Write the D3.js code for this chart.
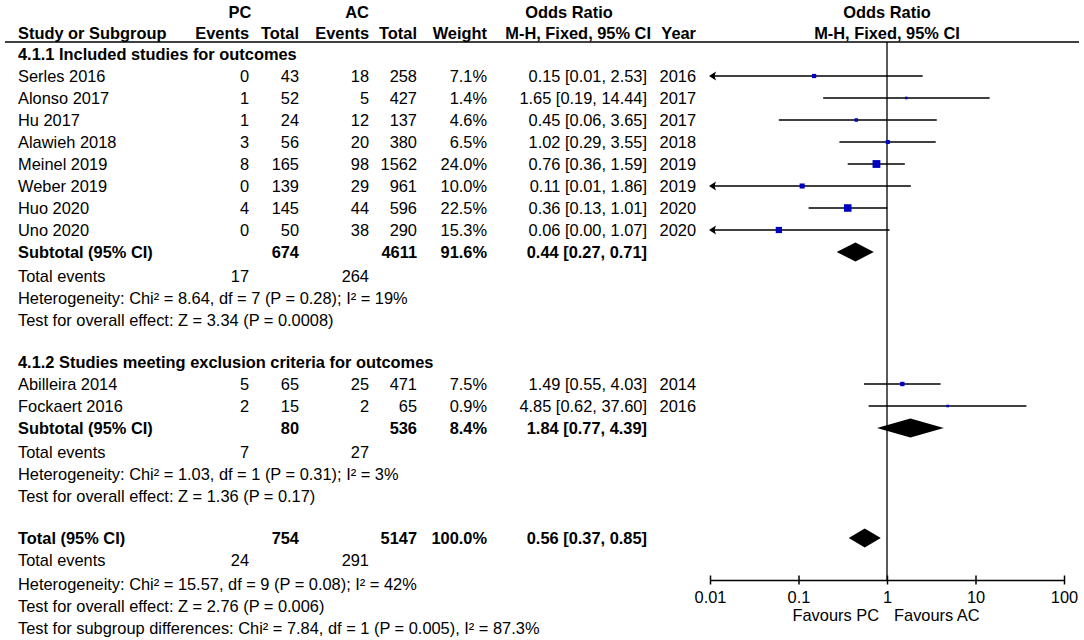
<!DOCTYPE html>
<html>
<head>
<meta charset="utf-8">
<script src="https://cdn.jsdelivr.net/npm/d3@7"></script>
<style>
  body { margin: 0; background: #fff; }
  svg { display: block; font-family: Arial, "Liberation Sans", sans-serif; }
</style>
</head>
<body>
<svg id="chart" width="1084" height="640"></svg>
<script>
// study level data
var studies = ["Serles 2016", "Alonso 2017", "Hu 2017", "Alawieh 2018", "Meinel 2019",
               "Weber 2019", "Huo 2020", "Uno 2020", "Abilleira 2014", "Fockaert 2016"];
var subgroup = [0, 0, 0, 0, 0, 0, 0, 0, 1, 1];
var pcEvents = [0, 1, 1, 3, 8, 0, 4, 0, 5, 2];
var pcTotal = [43, 52, 24, 56, 165, 139, 145, 50, 65, 15];
var acEvents = [18, 5, 12, 20, 98, 29, 44, 38, 25, 2];
var acTotal = [258, 427, 137, 380, 1562, 961, 596, 290, 471, 65];
var weights = [7.1, 1.4, 4.6, 6.5, 24.0, 10.0, 22.5, 15.3, 7.5, 0.9];
var oddsRatio = [0.15, 1.65, 0.45, 1.02, 0.76, 0.11, 0.36, 0.06, 1.49, 4.85];
var ciLow = [0.01, 0.19, 0.06, 0.29, 0.36, 0.01, 0.13, 0.00, 0.55, 0.62];
var ciHigh = [2.53, 14.44, 3.65, 3.55, 1.59, 1.86, 1.01, 1.07, 4.03, 37.60];
var years = [2016, 2017, 2017, 2018, 2019, 2019, 2020, 2020, 2014, 2016];

// subgroup summaries
var subgroupNames = ["4.1.1 Included studies for outcomes",
                     "4.1.2 Studies meeting exclusion criteria for outcomes"];
var subPcEvents = [17, 7];
var subAcEvents = [264, 27];
var subPcTotal = [674, 80];
var subAcTotal = [4611, 536];
var subWeight = [91.6, 8.4];
var subOR = [0.44, 1.84];
var subLow = [0.27, 0.77];
var subHigh = [0.71, 4.39];
var subHetero = ["Heterogeneity: Chi² = 8.64, df = 7 (P = 0.28); I² = 19%",
                 "Heterogeneity: Chi² = 1.03, df = 1 (P = 0.31); I² = 3%"];
var subEffect = ["Test for overall effect: Z = 3.34 (P = 0.0008)",
                 "Test for overall effect: Z = 1.36 (P = 0.17)"];

// overall
var totalPc = 754, totalAc = 5147, totalWeight = 100.0;
var totalOR = 0.56, totalLow = 0.37, totalHigh = 0.85;
var totalPcEvents = 24, totalAcEvents = 291;
var totalNotes = ["Heterogeneity: Chi² = 15.57, df = 9 (P = 0.08); I² = 42%",
                  "Test for overall effect: Z = 2.76 (P = 0.006)",
                  "Test for subgroup differences: Chi² = 7.84, df = 1 (P = 0.005), I² = 87.3%"];

var tickValues = [0.01, 0.1, 1, 10, 100];
var tickLabels = ["0.01", "0.1", "1", "10", "100"];
var favours = ["Favours PC", "Favours AC"];

var svg = d3.select("#chart");
var fontSize = 16.4;

/* column anchors (right aligned unless noted) */
var col = {name: 18, pcEv: 249, pcTot: 299, acEv: 369, acTot: 417,
           weight: 487, or: 647, year: 696};

var x = d3.scaleLog().domain([0.01, 100]).range([710, 1064]);
var row = d3.scaleLinear().domain([0, 1]).range([76, 98]);
var axisY = 580;

var pct = function(v) { return d3.format(".1f")(v) + "%"; };
var f2 = d3.format(".2f");
var ciText = function(o, l, h) { return f2(o) + " [" + f2(l) + ", " + f2(h) + "]"; };

function txt(xp, yp, s, anchor, bold, size) {
  return svg.append("text")
    .attr("x", xp).attr("y", yp).attr("dy", "0.36em")
    .attr("text-anchor", anchor || "end")
    .attr("font-size", size || fontSize)
    .attr("font-weight", bold ? "bold" : "normal")
    .attr("fill", "#000")
    .text(s);
}

/* Header */
txt(240, 12, "PC", "middle", true);
txt(357, 12, "AC", "middle", true);
txt(569, 12, "Odds Ratio", "middle", true);
txt(x(1), 12, "Odds Ratio", "middle", true);
txt(col.name, 33, "Study or Subgroup", "start", true);
txt(col.pcEv, 33, "Events", "end", true);
txt(col.pcTot, 33, "Total", "end", true);
txt(col.acEv, 33, "Events", "end", true);
txt(col.acTot, 33, "Total", "end", true);
txt(col.weight, 33, "Weight", "end", true);
txt(651, 33, "M-H, Fixed, 95% CI", "end", true);
txt(col.year, 33, "Year", "end", true);
txt(x(1), 33, "M-H, Fixed, 95% CI", "middle", true);

svg.append("line")
  .attr("x1", 5).attr("x2", 1079).attr("y1", 42).attr("y2", 42)
  .attr("stroke", "#000").attr("stroke-width", 1.5);

/* Build row layout */
var layout = [];
var r = -1;
subgroupNames.forEach(function(name, g) {
  layout.push({type: "title", g: g, r: r++});
  studies.forEach(function(s, i) {
    if (subgroup[i] === g) layout.push({type: "study", i: i, r: r++});
  });
  layout.push({type: "sub", g: g, r: r++});
  layout.push({type: "events", g: g, r: r++});
  layout.push({type: "note", s: subHetero[g], r: r++});
  layout.push({type: "note", s: subEffect[g], r: r++});
  r++;
});
layout.push({type: "total", r: r++});
layout.push({type: "tevents", r: r++});
totalNotes.forEach(function(s) { layout.push({type: "note", s: s, r: r++}); });

/* Reference line at OR = 1 */
svg.append("line")
  .attr("x1", x(1)).attr("x2", x(1)).attr("y1", 42).attr("y2", axisY)
  .attr("stroke", "#000").attr("stroke-width", 1.3);

var sq = d3.scaleSqrt().domain([0, 24]).range([0, 7.8]);
var marks = svg.append("g");

function diamond(o, l, h, yc) {
  var hh = 9.5;
  marks.append("path")
    .attr("d", "M" + x(l) + "," + yc + "L" + x(o) + "," + (yc - hh) +
               "L" + x(h) + "," + yc + "L" + x(o) + "," + (yc + hh) + "Z")
    .attr("fill", "#000");
}

layout.forEach(function(d) {
  var yc = row(d.r);
  if (d.type === "title") {
    txt(col.name, yc, subgroupNames[d.g], "start", true);
  }
  else if (d.type === "study") {
    var i = d.i;
    txt(col.name, yc, studies[i], "start");
    txt(col.pcEv, yc, pcEvents[i]);
    txt(col.pcTot, yc, pcTotal[i]);
    txt(col.acEv, yc, acEvents[i]);
    txt(col.acTot, yc, acTotal[i]);
    txt(col.weight, yc, pct(weights[i]));
    txt(col.or, yc, ciText(oddsRatio[i], ciLow[i], ciHigh[i]));
    txt(col.year, yc, years[i]);

    /* CI line, with an arrow where it runs off the scale */
    var lo = Math.max(ciLow[i], 0.01), hi = Math.min(ciHigh[i], 100);
    var arrow = ciLow[i] <= 0.01;
    marks.append("line")
      .attr("x1", x(lo) + (arrow ? 2 : 0)).attr("x2", x(hi))
      .attr("y1", yc).attr("y2", yc)
      .attr("stroke", "#000").attr("stroke-width", 1.5);
    if (arrow) {
      marks.append("path")
        .attr("d", "M" + (x(0.01) - 1) + "," + yc + "l7,-4.5l-1.5,4.5l1.5,4.5z")
        .attr("fill", "#000");
    }
    var s = Math.max(2.6, sq(weights[i]));
    marks.append("rect")
      .attr("x", x(oddsRatio[i]) - s / 2).attr("y", yc - s / 2)
      .attr("width", s).attr("height", s)
      .attr("fill", "#0000c0");
  }
  else if (d.type === "sub") {
    var g = d.g;
    txt(col.name, yc, "Subtotal (95% CI)", "start", true);
    txt(col.pcTot, yc, subPcTotal[g], "end", true);
    txt(col.acTot, yc, subAcTotal[g], "end", true);
    txt(col.weight, yc, pct(subWeight[g]), "end", true);
    txt(col.or, yc, ciText(subOR[g], subLow[g], subHigh[g]), "end", true);
    diamond(subOR[g], subLow[g], subHigh[g], yc);
  }
  else if (d.type === "events") {
    txt(col.name, yc + 2, "Total events", "start");
    txt(col.pcEv, yc + 2, subPcEvents[d.g]);
    txt(col.acEv, yc + 2, subAcEvents[d.g]);
  }
  else if (d.type === "note") {
    txt(col.name, yc + 2, d.s, "start");
  }
  else if (d.type === "total") {
    txt(col.name, yc, "Total (95% CI)", "start", true);
    txt(col.pcTot, yc, totalPc, "end", true);
    txt(col.acTot, yc, totalAc, "end", true);
    txt(col.weight, yc, pct(totalWeight), "end", true);
    txt(col.or, yc, ciText(totalOR, totalLow, totalHigh), "end", true);
    diamond(totalOR, totalLow, totalHigh, yc);
  }
  else if (d.type === "tevents") {
    txt(col.name, yc, "Total events", "start");
    txt(col.pcEv, yc, totalPcEvents);
    txt(col.acEv, yc, totalAcEvents);
  }
});

/* Axis */
var axis = d3.axisBottom(x)
  .tickValues(tickValues)
  .tickFormat(function(v, i) { return tickLabels[i]; })
  .tickSizeOuter(0);

var ax = svg.append("g")
  .attr("transform", "translate(0," + axisY + ")")
  .call(axis);
ax.select(".domain").attr("stroke", "#000").attr("stroke-width", 1.5);
ax.selectAll(".tick line").attr("y1", -4.5).attr("y2", 4.5)
  .attr("stroke", "#000").attr("stroke-width", 1.5);
ax.selectAll(".tick text")
  .attr("y", 17).attr("dy", "0.36em")
  .attr("font-size", fontSize).attr("font-family", "Arial, 'Liberation Sans', sans-serif")
  .attr("fill", "#000");

txt(x(1) - 8, 615, favours[0], "end", false);
txt(x(1) + 7, 615, favours[1], "start", false);
</script>
</body>
</html>
